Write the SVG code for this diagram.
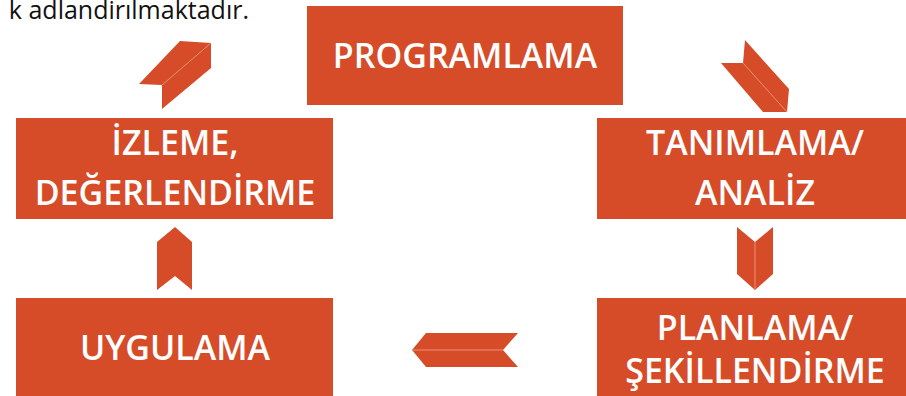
<svg xmlns="http://www.w3.org/2000/svg" width="906" height="396" viewBox="0 0 906 396">
<style>
.box{fill:#D64C29}
.lbl{fill:#FFFFFF;font-family:"Open Sans","Noto Sans","DejaVu Sans",sans-serif;font-size:34px;font-weight:600;text-anchor:middle}
.arr{fill:#D64C29}
.ridge{stroke:#EC8F74;stroke-width:1;fill:none}
.cap{fill:#111111;font-family:"Open Sans","Noto Sans","DejaVu Sans",sans-serif;font-size:25px}
</style>
<rect width="906" height="396" fill="#FFFFFF"/>
<text class="cap" x="249" y="19" text-anchor="end">k adlandirılmaktadır.</text>
<g id="programlama">
<rect class="box" x="307" y="6" width="316" height="99"/>
<text class="lbl" x="465" y="68">PROGRAMLAMA</text>
</g>
<g id="tanimlama">
<rect class="box" x="597" y="118" width="309" height="101"/>
<text class="lbl" x="755" y="155">TANIMLAMA/</text>
<text class="lbl" x="755" y="205">ANALİZ</text>
</g>
<g id="planlama">
<rect class="box" x="597" y="298" width="309" height="98"/>
<text class="lbl" x="755" y="340">PLANLAMA/</text>
<text class="lbl" x="755" y="383">ŞEKİLLENDİRME</text>
</g>
<g id="uygulama">
<rect class="box" x="16" y="298" width="317" height="98"/>
<text class="lbl" x="175" y="360">UYGULAMA</text>
</g>
<g id="izleme">
<rect class="box" x="16" y="118" width="317" height="101"/>
<text class="lbl" x="175" y="155">İZLEME,</text>
<text class="lbl" x="175" y="205">DEĞERLENDİRME</text>
</g>
<g id="connectors">
<polygon class="arr" points="745,40 789,89 787,112 763,112 721,63 743,63"/>
<line class="ridge" x1="743" y1="63" x2="787" y2="112"/>
<polygon class="arr" points="737,227 755,242 773,227 773,274 755,290 737,274"/>
<line class="ridge" x1="755" y1="242" x2="755" y2="290"/>
<polygon class="arr" points="518,333 503,350 518,367 426,367 412,350 426,333"/>
<line class="ridge" x1="412" y1="350" x2="503" y2="350"/>
<polygon class="arr" points="157,242 175,227 192,242 192,290 175,276 157,290"/>
<polygon class="arr" points="180,41 211,43 211,68 162,109 162,85 139,84"/>
<line class="ridge" x1="211" y1="43" x2="162" y2="85"/>
</g>
</svg>
